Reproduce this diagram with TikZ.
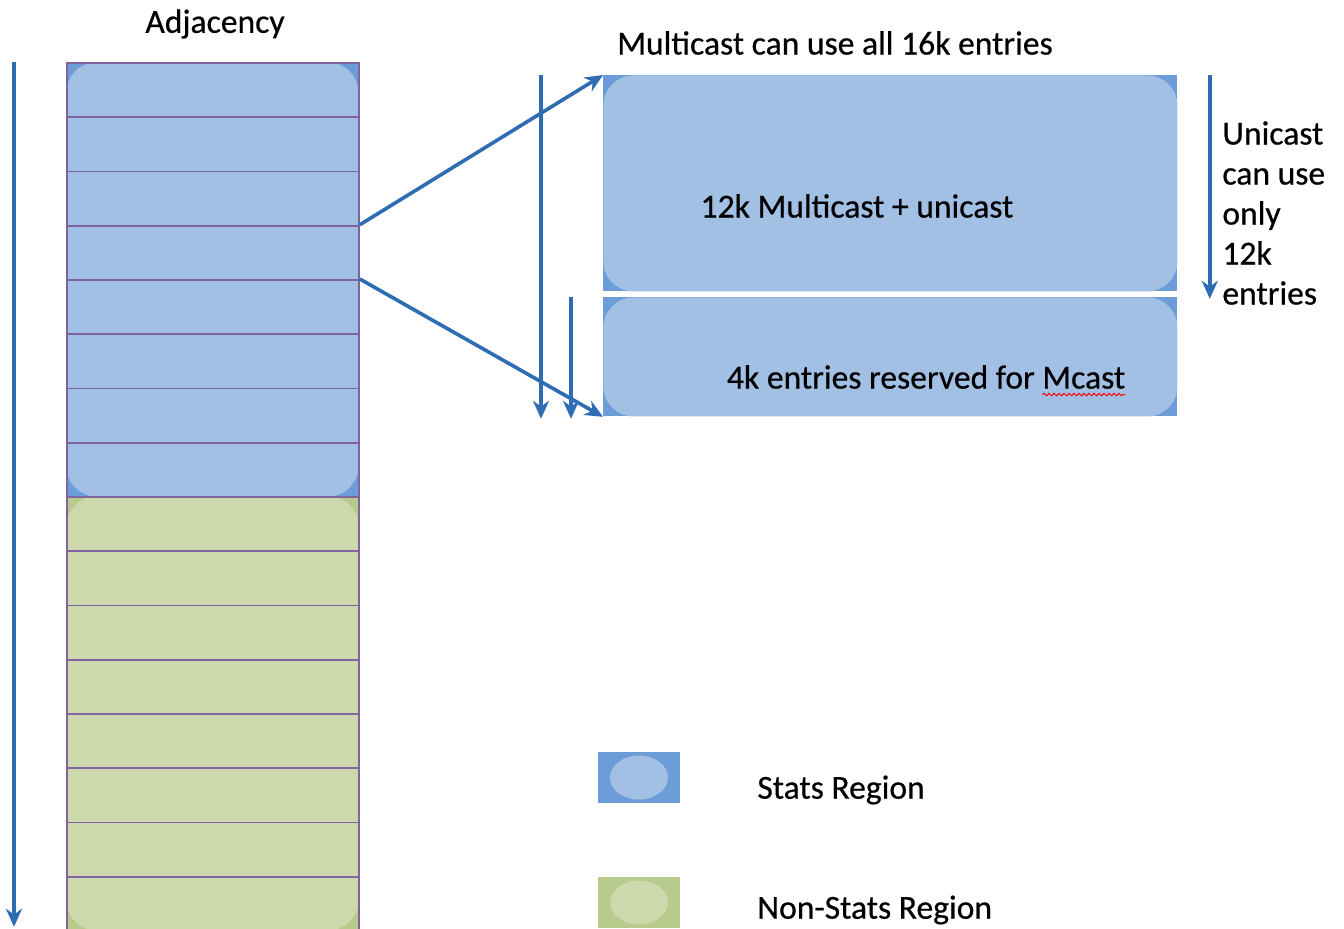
\documentclass[tikz,border=0pt]{standalone}
\usepackage{fontspec}
\setmainfont[FakeBold=0.5]{Carlito}
\usetikzlibrary{arrows.meta, positioning, calc, decorations.pathmorphing}
\definecolor{statslight}{RGB}{161,192,228}
\definecolor{statsdark}{RGB}{108,157,216}
\definecolor{greenlight}{RGB}{205,217,172}
\definecolor{greendark}{RGB}{185,203,140}
\definecolor{rowpurple}{RGB}{128,100,162}
\definecolor{arrowblue}{RGB}{46,108,180}

\begin{document}
\begin{tikzpicture}[x=0.5pt, y=-0.5pt,
    stats_region/.style={fill=statsdark, inner sep=0, anchor=north west,
        path picture={\fill[statslight, rounded corners=15pt] (path picture bounding box.south west) rectangle (path picture bounding box.north east);}},
    nonstats_region/.style={fill=greendark, inner sep=0, anchor=north west,
        path picture={\fill[greenlight, rounded corners=15pt] (path picture bounding box.south west) rectangle (path picture bounding box.north east);}},
    stats_key/.style={fill=statsdark, inner sep=0, minimum width=41pt, minimum height=25.5pt,
        path picture={\fill[statslight] (path picture bounding box.center) ellipse (14.5pt and 11pt);}},
    nonstats_key/.style={fill=greendark, inner sep=0, minimum width=41pt, minimum height=25.5pt,
        path picture={\fill[greenlight] (path picture bounding box.center) ellipse (14.5pt and 11pt);}},
    cell/.style={draw=rowpurple, line width=0.9pt, minimum width=146pt, minimum height=27.125pt, inner sep=0, anchor=north west},
    txt/.style={font=\fontsize{16.8}{20}\selectfont, inner sep=0},
    flow/.style={-{Stealth[length=9pt, width=8pt]}, line width=1.8pt, draw=arrowblue}
]
    \useasboundingbox (0,0) rectangle (1344,928);

    % Adjacency table: stats rows on top, non-stats rows below
    \node[stats_region, minimum width=146pt, minimum height=217pt] (stats) at (66,62) {};
    \node[nonstats_region, minimum width=146pt, minimum height=217pt] (nonstats) at (66,496) {};
    \foreach \i in {1,...,16}
        \node[cell] (row\i) at (66, {62+(\i-1)*54.25}) {};
    \node[txt] (adjtitle) at (215,24) {Adjacency};

    % Left arrow along the whole table
    \draw[flow] ([xshift=-26pt]row1.north west) -- ([xshift=-26pt, yshift=2.5pt]row16.south west);

    % Zoomed stats region
    \node[stats_region, minimum width=287pt, minimum height=108pt] (upper) at (603,75) {};
    \node[stats_region, minimum width=287pt, minimum height=59.5pt] (lower) at (603,297) {};
    \node[txt] (uppertext) at (857,206) {12k Multicast + unicast};
    \node[txt] (lowertext) at (926,377) {4k entries reserved for Mcast};
    \draw[red, line width=0.5pt, decorate, decoration={snake, amplitude=0.6pt, segment length=2.5pt}]
        ([xshift=-41.5pt, yshift=-3pt]lowertext.base east) -- ([yshift=-3pt]lowertext.base east);
    \node[txt] (mcasttitle) at (835,43) {Multicast can use all 16k entries};
    \node[txt, align=left, anchor=north west] (unitext) at (1222,121) {Unicast\\can use\\only\\12k\\entries};

    % Connectors
    \draw[flow] (row4.north east) -- (upper.north west);
    \draw[flow] (row5.north east) -- (lower.south west);
    \draw[flow] ([xshift=-31pt]upper.north west) -- ([xshift=-31pt, yshift=-1pt]lower.south west);
    \draw[flow] ([xshift=-16pt]lower.north west) -- ([xshift=-16pt, yshift=-1pt]lower.south west);
    \draw[flow] ([xshift=16pt]upper.north east) -- ([xshift=16pt, yshift=-3.5pt]upper.south east);

    % Legend
    \node[stats_key] (statskey) at (639,777.5) {};
    \node[txt, anchor=west] (statslabel) at (757,790) {Stats Region};
    \node[nonstats_key] (nonstatskey) at (639,902.5) {};
    \node[txt, anchor=west] (nonstatslabel) at (757,910) {Non-Stats Region};

\end{tikzpicture}
\end{document}
